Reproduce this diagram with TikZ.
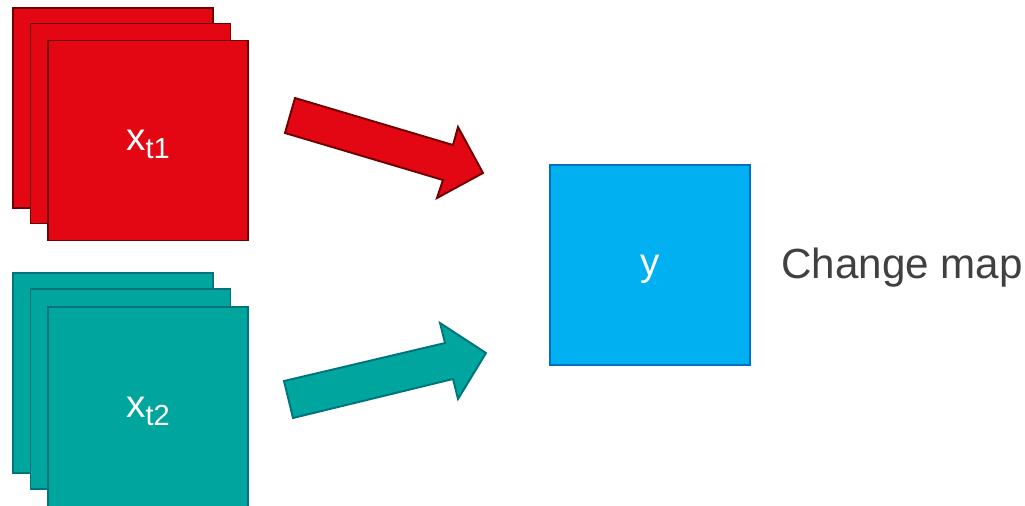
\documentclass[tikz,border=0pt]{standalone}
\usepackage{fontspec}
\setmainfont{Liberation Sans}
\definecolor{SheetRed}{RGB}{227, 6, 19}
\definecolor{SheetRedLine}{RGB}{112, 0, 0}
\definecolor{SheetTeal}{RGB}{0, 166, 157}
\definecolor{SheetTealLine}{RGB}{0, 116, 126}
\definecolor{MapBlue}{RGB}{0, 176, 240}
\definecolor{MapBlueLine}{RGB}{0, 112, 192}
\definecolor{CaptionGray}{RGB}{64, 64, 64}
\newcommand{\xsub}[1]{x\raisebox{-0.16cm}{\fontsize{16.5pt}{18pt}\selectfont #1}}

\begin{document}
\begin{tikzpicture}[x=0.02cm,y=-0.02cm]
    \tikzset{
      sheet/.style={minimum size=4cm,inner sep=0pt,line width=1.1pt,text=white,text depth=0pt,font=\fontsize{22pt}{26pt}\selectfont},
      redsheet/.style={sheet,fill=SheetRed,draw=SheetRedLine},
      tealsheet/.style={sheet,fill=SheetTeal,draw=SheetTealLine},
      mapsheet/.style={sheet,fill=MapBlue,draw=MapBlueLine,line width=0.85pt},
      redarrow/.style={fill=SheetRed,draw=SheetRedLine,line width=1.1pt,line join=miter},
      tealarrow/.style={fill=SheetTeal,draw=SheetTealLine,line width=1.1pt,line join=miter}
    }
    \useasboundingbox (0,0) rectangle (1025,505);
    % first date stack
    \node[redsheet] (xa1) at (113,108) {};
    \node[redsheet] (xa2) at (130.5,123.5) {};
    \node[redsheet] (xa3) at (148,140.5) {\xsub{t1}};
    % second date stack
    \node[tealsheet] (xb1) at (113,373) {};
    \node[tealsheet] (xb2) at (130.5,389) {};
    \node[tealsheet] (xb3) at (148,407) {\xsub{t2}};
    % output
    \node[mapsheet] (y) at (650,265) {y};
    \node[anchor=base west,inner sep=0pt,text=CaptionGray,font=\fontsize{24pt}{28pt}\selectfont] (caption) at (781,278) {Change map};
    % block arrows
    \draw[redarrow] (295,98) -- (453,145) -- (458,127) -- (483,173) -- (437,198) -- (443,180) -- (285,133) -- cycle;
    \draw[tealarrow] (284,381) -- (445,343) -- (440,323) -- (486,353) -- (458,399) -- (453,379) -- (293,418) -- cycle;
  \end{tikzpicture}
\end{document}
